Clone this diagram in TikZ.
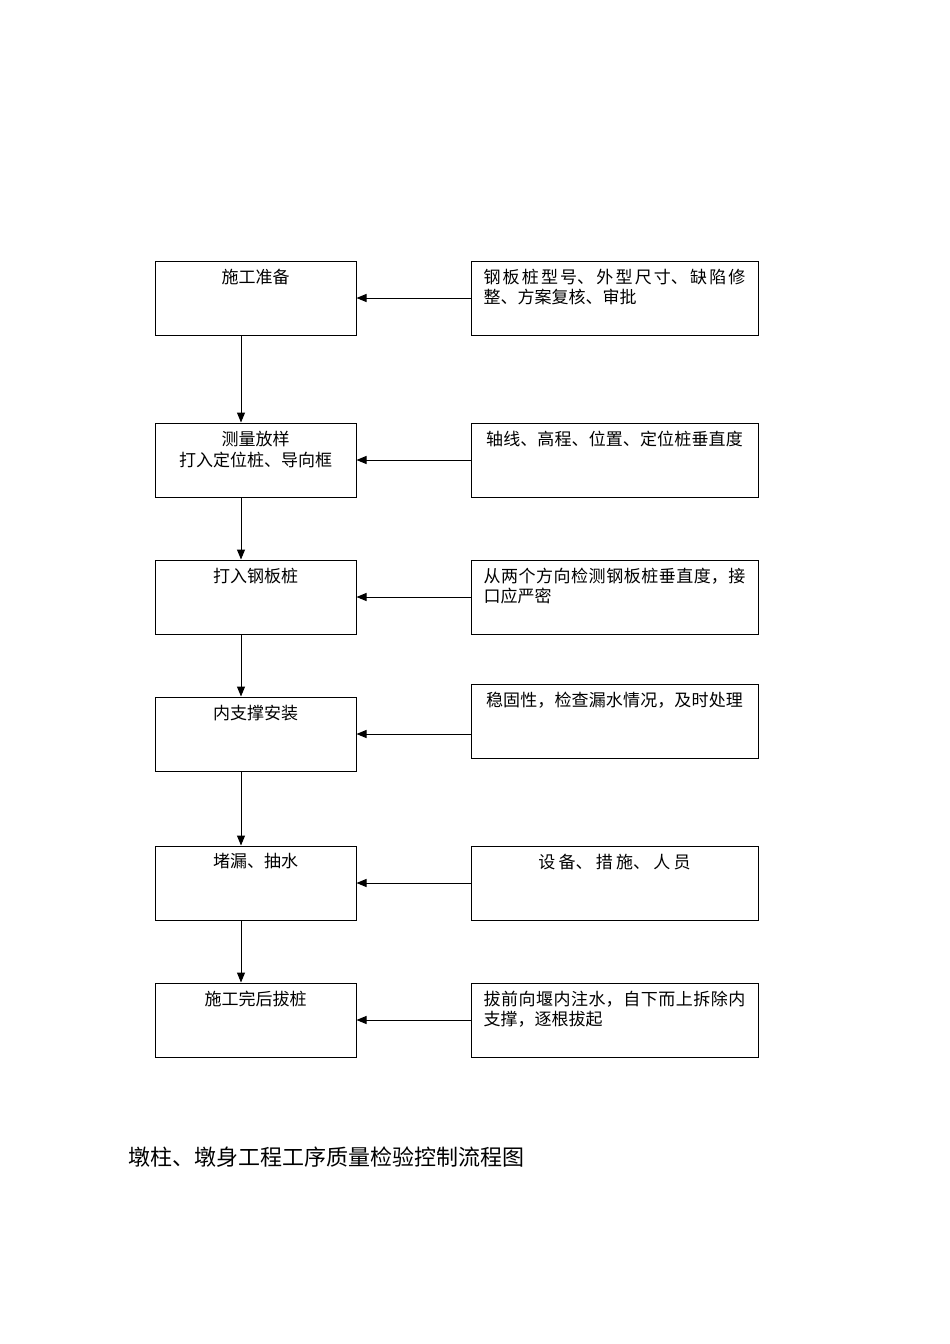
\documentclass[tikz,border=0pt]{standalone}
\usepackage{fontspec}
\setmainfont{Noto Sans CJK SC}
\XeTeXlinebreaklocale "zh"
\XeTeXlinebreakskip=0pt plus 2pt
\usetikzlibrary{arrows.meta}
\tikzset{
  stepbox/.style={draw, line width=1pt, minimum width=201pt, minimum height=74pt, inner sep=0pt},
  checkbox/.style={draw, line width=1pt, minimum width=287pt, minimum height=74pt, inner sep=0pt},
  steptext/.style={anchor=north, inner sep=0pt, yshift=-8pt, align=center, font=\fontsize{17}{21}\selectfont},
  checktext/.style={anchor=north, inner sep=0pt, yshift=-8pt, text width=262pt, font=\fontsize{17}{20}\selectfont},
  arr/.style={-{Triangle[length=10pt,width=8pt]}, line width=1pt}
}
\begin{document}
\begin{tikzpicture}[x=1pt, y=-1pt]
        \useasboundingbox (0,0) rectangle (950,1344);
        % left column
        \node[stepbox] (l1) at (255.5,298) {};
        \node[stepbox] (l2) at (255.5,460) {};
        \node[stepbox] (l3) at (255.5,597) {};
        \node[stepbox] (l4) at (255.5,734) {};
        \node[stepbox] (l5) at (255.5,883) {};
        \node[stepbox] (l6) at (255.5,1020) {};
        \node[steptext] (t1) at (l1.north) {施工准备};
        \node[steptext] (t2) at (l2.north) {测量放样\\打入定位桩、导向框};
        \node[steptext] (t3) at (l3.north) {打入钢板桩};
        \node[steptext] (t4) at (l4.north) {内支撑安装};
        \node[steptext] (t5) at (l5.north) {堵漏、抽水};
        \node[steptext] (t6) at (l6.north) {施工完后拔桩};
        % right column
        \node[checkbox] (r1) at (614.5,298) {};
        \node[checkbox] (r2) at (614.5,460) {};
        \node[checkbox] (r3) at (614.5,597) {};
        \node[checkbox] (r4) at (614.5,721) {};
        \node[checkbox] (r5) at (614.5,883) {};
        \node[checkbox] (r6) at (614.5,1020) {};
        \node[checktext, align=justify] (c1) at (r1.north) {钢板桩型号、外型尺寸、缺陷修整、方案复核、审批};
        \node[checktext, align=center] (c2) at (r2.north) {轴线、高程、位置、定位桩垂直度};
        \node[checktext, align=justify] (c3) at (r3.north) {从两个方向检测钢板桩垂直度，接口应严密};
        \node[checktext, align=center] (c4) at (r4.north) {稳固性，检查漏水情况，及时处理};
        \node[checktext, align=center] (c5) at (r5.north) {设备、措施、人员};
        \node[checktext, align=justify] (c6) at (r6.north) {拔前向堰内注水，自下而上拆除内支撑，逐根拔起};
        % arrows
        \draw[arr] ([xshift=-14.5pt]l1.south) -- ([xshift=-14.5pt]l2.north);
        \draw[arr] ([xshift=-14.5pt]l2.south) -- ([xshift=-14.5pt]l3.north);
        \draw[arr] ([xshift=-14.5pt]l3.south) -- ([xshift=-14.5pt]l4.north);
        \draw[arr] ([xshift=-14.5pt]l4.south) -- ([xshift=-14.5pt]l5.north);
        \draw[arr] ([xshift=-14.5pt]l5.south) -- ([xshift=-14.5pt]l6.north);
        \draw[arr] (r1.west |- l1.east) -- (l1.east);
        \draw[arr] (r2.west |- l2.east) -- (l2.east);
        \draw[arr] (r3.west |- l3.east) -- (l3.east);
        \draw[arr] (r4.west |- l4.east) -- (l4.east);
        \draw[arr] (r5.west |- l5.east) -- (l5.east);
        \draw[arr] (r6.west |- l6.east) -- (l6.east);
        % title
        \node[anchor=west, inner sep=0pt, font=\fontsize{22}{26}\selectfont] (title) at (128,1157) {墩柱、墩身工程工序质量检验控制流程图};
\end{tikzpicture}
\end{document}
